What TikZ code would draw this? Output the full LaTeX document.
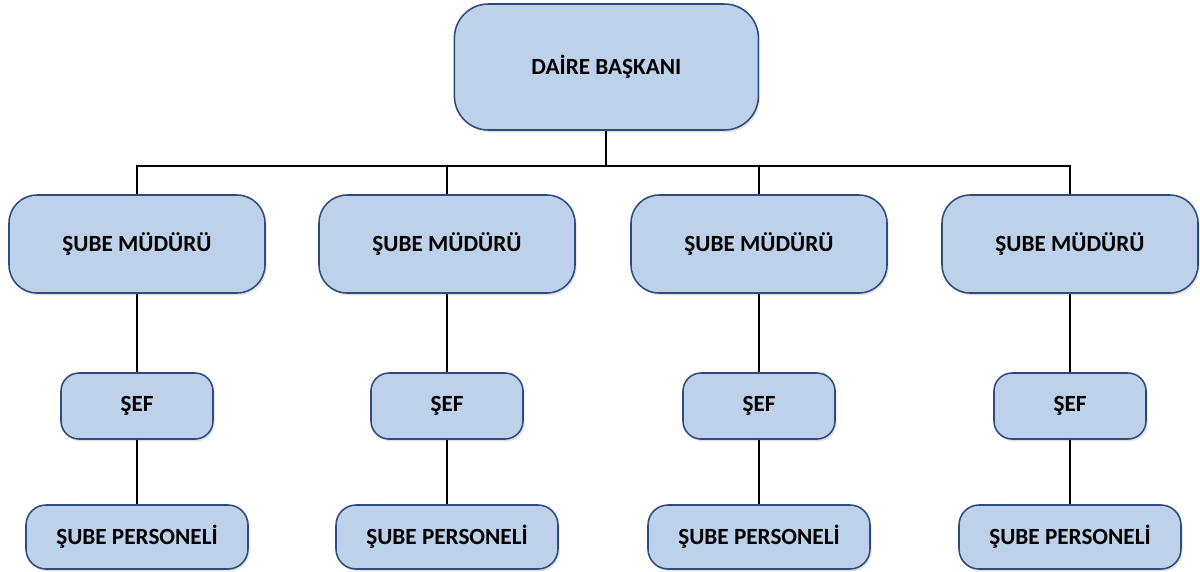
\documentclass[tikz,border=0pt]{standalone}
\usepackage{fontspec}
\setmainfont{Carlito}
\usepackage{tikz}
\usetikzlibrary{positioning,shadows}
\definecolor{kutumavi}{HTML}{BDD1EA}
\definecolor{kenarmavi}{HTML}{2F4A7B}

\begin{document}
\begin{tikzpicture}
[align=center,font=\bfseries\fontsize{16.5}{19}\selectfont]
\tikzstyle{plain}=[fill=kutumavi, draw=kenarmavi, line width=1.1pt,
  drop shadow={shadow xshift=1.2pt, shadow yshift=-1.6pt, opacity=0.18, fill=black!60}]
\tikzstyle{baskan}=[plain, rounded corners=0.85cm, minimum width=7.6cm, minimum height=3.15cm]
\tikzstyle{mudur}=[plain, rounded corners=0.7cm, minimum width=6.4cm, minimum height=2.45cm]
\tikzstyle{sef}=[plain, rounded corners=0.45cm, minimum width=3.8cm, minimum height=1.65cm]
\tikzstyle{personel}=[plain, rounded corners=0.5cm, minimum width=5.55cm, minimum height=1.6cm]
\tikzstyle{hat}=[black, line width=1.3pt]

\useasboundingbox (0,0) rectangle (30,-14.275);

\draw node [baskan] (daire) at (15.16,-1.675) {DAİRE BAŞKANI};
\coordinate (bus) at (15.16,-4.15);

\draw node [mudur] (mud1) at (3.425,-6.1) {ŞUBE MÜDÜRÜ};
\draw node [mudur] (mud2) at (11.175,-6.1) {ŞUBE MÜDÜRÜ};
\draw node [mudur] (mud3) at (18.975,-6.1) {ŞUBE MÜDÜRÜ};
\draw node [mudur] (mud4) at (26.75,-6.1) {ŞUBE MÜDÜRÜ};

\draw node [sef,below of=mud1,node distance=4.05cm] (sef1) {ŞEF};
\draw node [sef,below of=mud2,node distance=4.05cm] (sef2) {ŞEF};
\draw node [sef,below of=mud3,node distance=4.05cm] (sef3) {ŞEF};
\draw node [sef,below of=mud4,node distance=4.05cm] (sef4) {ŞEF};

\draw node [personel,below of=sef1,node distance=3.275cm] (per1) {ŞUBE PERSONELİ};
\draw node [personel,below of=sef2,node distance=3.275cm] (per2) {ŞUBE PERSONELİ};
\draw node [personel,below of=sef3,node distance=3.275cm] (per3) {ŞUBE PERSONELİ};
\draw node [personel,below of=sef4,node distance=3.275cm] (per4) {ŞUBE PERSONELİ};

\draw [hat] (daire) -- (bus);
\draw [hat] (mud1) |- (bus) -| (mud4);
\draw [hat] (mud2) -- (mud2 |- bus);
\draw [hat] (mud3) -- (mud3 |- bus);

\draw [hat] (mud1) -- (sef1);
\draw [hat] (mud2) -- (sef2);
\draw [hat] (mud3) -- (sef3);
\draw [hat] (mud4) -- (sef4);
\draw [hat] (sef1) -- (per1);
\draw [hat] (sef2) -- (per2);
\draw [hat] (sef3) -- (per3);
\draw [hat] (sef4) -- (per4);

\end{tikzpicture}
\end{document}
